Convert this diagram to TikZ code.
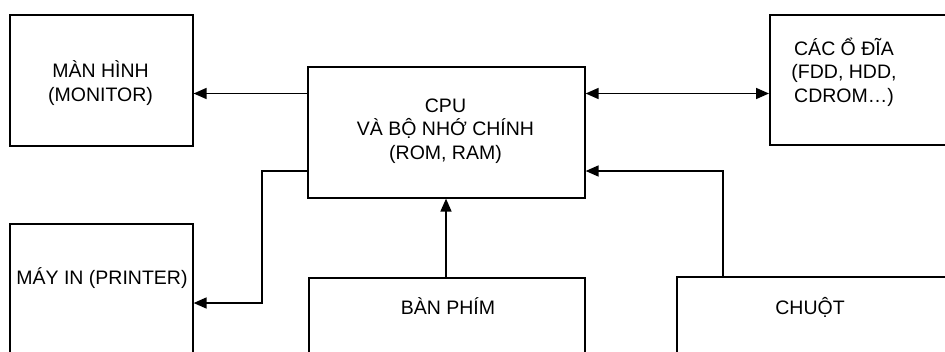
\documentclass[tikz,border=0pt]{standalone}
\usepackage{fontspec}
\setmainfont{Liberation Sans}
\usetikzlibrary{arrows.meta}
\begin{document}
\begin{tikzpicture}[x=1pt,y=-1pt,
  box/.style={draw, line width=1.6pt, rectangle, inner sep=0pt, anchor=north west},
  lbl/.style={font=\fontsize{19.5}{23.5}\selectfont, align=center, inner sep=0pt},
  conn/.style={line width=1.6pt},
  arr/.style={conn, -{Triangle[length=13pt,width=11pt]}},
  darr/.style={conn, {Triangle[length=13pt,width=11pt]}-{Triangle[length=13pt,width=11pt]}}]
\useasboundingbox (0,0) rectangle (945,351);
\clip (0,0) rectangle (945,351);
\fill[white] (0,0) rectangle (945,351);
% boxes
\node[box, minimum width=183pt, minimum height=131pt] (monitor) at (9,14) {};
\node[box, minimum width=277pt, minimum height=131pt] (cpu) at (307,66) {};
\node[box, minimum width=200pt, minimum height=130pt] (disk) at (769,14) {};
\node[box, minimum width=183pt, minimum height=160pt] (printer) at (9,223) {};
\node[box, minimum width=276pt, minimum height=100pt] (keyboard) at (308,277) {};
\node[box, minimum width=290pt, minimum height=100pt] (mouse) at (676,276) {};
% labels
\node[lbl] (tmonitor) at (100.5,83) {MÀN HÌNH\\(MONITOR)};
\node[lbl] (tcpu) at (445.5,131) {CPU\\VÀ BỘ NHỚ CHÍNH\\(ROM, RAM)};
\node[lbl] (tdisk) at (844,72) {CÁC Ổ ĐĨA\\(FDD, HDD,\\CDROM…)};
\node[lbl] (tprinter) at (102,278) {MÁY IN (PRINTER)};
\node[lbl] (tkeyboard) at (448,306) {BÀN PHÍM};
\node[lbl] (tmouse) at (810,307) {CHUỘT};
% helper coordinates
\coordinate (ytop) at (0,93.5);
\coordinate (ylow) at (0,171);
\coordinate (ypr) at (0,303);
\coordinate (xpr) at (262,0);
\coordinate (xkb) at (446,0);
\coordinate (xms) at (723,0);
% connectors
\draw[arr] (cpu.west |- ytop) -- (monitor.east |- ytop);
\draw[darr] (cpu.east |- ytop) -- (disk.west |- ytop);
\draw[arr] (cpu.west |- ylow) -| (xpr |- ypr) -- (printer.east |- ypr);
\draw[arr] (keyboard.north -| xkb) -- (cpu.south -| xkb);
\draw[arr] (mouse.north -| xms) |- (cpu.east |- ylow);
\end{tikzpicture}
\end{document}
